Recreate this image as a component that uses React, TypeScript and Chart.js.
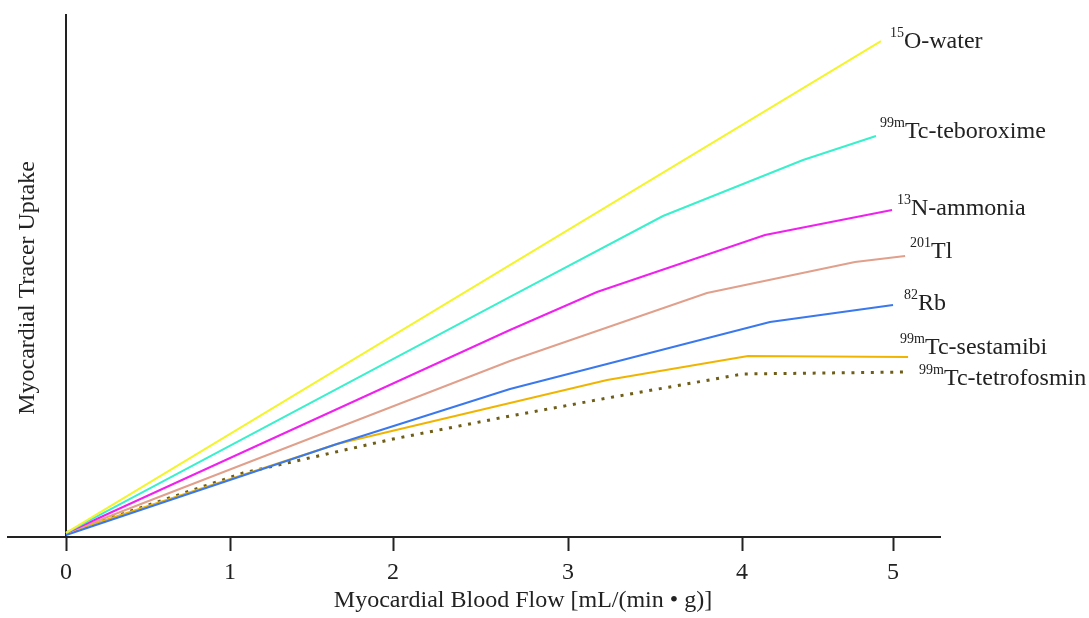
import React, { useEffect, useRef } from "react";
import { Chart, registerables } from "chart.js";

Chart.register(...registerables);

// x tick positions as they sit on the reference axis, and their labels
const xTickPositions = [0, 0.9915, 1.977, 3.035, 4.087, 5.0];
const xTickLabels = ["0", "1", "2", "3", "4", "5"];

// Series (x = myocardial blood flow, y = relative tracer uptake, 0-100)
const waterX = [0, 4.927];
const waterY = [0.77, 95.0];

const teboroximeX = [0, 2.684, 3.609, 4.456, 4.897];
const teboroximeY = [0.77, 45.98, 61.49, 72.22, 76.82];

const ammoniaX = [0, 2.684, 3.21, 4.226, 4.994];
const ammoniaY = [0.77, 39.66, 46.93, 57.85, 62.64];

const thalliumX = [0, 2.684, 3.875, 4.77, 5.073];
const thalliumY = [0.77, 33.72, 46.74, 52.68, 53.83];

const rubidiumX = [0, 1.638, 2.684, 4.256, 5.0];
const rubidiumY = [0.38, 17.82, 28.35, 41.19, 44.44];

const sestamibiX = [0, 1.638, 3.271, 4.123, 5.091];
const sestamibiY = [0.77, 17.82, 30.08, 34.67, 34.48];

const tetrofosminX = [0, 1.07, 1.977, 2.684, 3.307, 4.093, 5.091];
const tetrofosminY = [0.77, 12.26, 18.77, 23.18, 26.82, 31.23, 31.61];

const seriesSup = ["15", "99m", "13", "201", "82", "99m", "99m"];
const seriesMain = ["O-water", "Tc-teboroxime", "N-ammonia", "Tl", "Rb", "Tc-sestamibi", "Tc-tetrofosmin"];

const xTitle = "Myocardial Blood Flow [mL/(min \u2022 g)]";
const yTitle = "Myocardial Tracer Uptake";

// styling
const seriesColors = ["#f4f42a", "#38f0cc", "#f020ee", "#e0a08c", "#3a78ee", "#f0b400", "#6e5e18"];
const labelOffsets = [
  [9, 7],
  [4, 2],
  [5, 5],
  [5, 2],
  [11, 5],
  [-8, -3],
  [11, 13],
];

const FONT = '"Liberation Serif", "Times New Roman", serif';
const INK = "#222222";

function pts(xs: number[], ys: number[]) {
  return xs.map((x, i) => ({ x, y: ys[i] }));
}

const labelPlugin = {
  id: "tracerLabels",
  afterDraw(chart: any) {
    const ctx = chart.ctx as CanvasRenderingContext2D;
    const area = chart.chartArea;
    ctx.save();
    ctx.fillStyle = INK;
    // y axis title
    ctx.save();
    ctx.translate(area.left + 26, area.top + 273);
    ctx.rotate(-Math.PI / 2);
    ctx.font = `24px ${FONT}`;
    ctx.textAlign = "center";
    ctx.textBaseline = "alphabetic";
    ctx.fillText(yTitle, 0, 0);
    ctx.restore();

    // x axis title
    ctx.font = `24px ${FONT}`;
    ctx.textAlign = "center";
    ctx.textBaseline = "alphabetic";
    ctx.fillText(xTitle, area.left + 515, area.bottom + 70);

    ctx.textAlign = "left";
    chart.data.datasets.forEach((_ds: any, i: number) => {
      const meta = chart.getDatasetMeta(i);
      const last = meta.data[meta.data.length - 1];
      const x = last.x + labelOffsets[i][0];
      const base = last.y + labelOffsets[i][1];
      ctx.font = `14px ${FONT}`;
      ctx.fillText(seriesSup[i], x, base - 11);
      const w = ctx.measureText(seriesSup[i]).width;
      ctx.font = `24px ${FONT}`;
      ctx.fillText(seriesMain[i], x + w, base);
    });
    ctx.restore();
  },
};

export default function App() {
  const canvasRef = useRef<HTMLCanvasElement | null>(null);

  useEffect(() => {
    const canvas = canvasRef.current;
    if (!canvas) return;
    const xs = [waterX, teboroximeX, ammoniaX, thalliumX, rubidiumX, sestamibiX, tetrofosminX];
    const ys = [waterY, teboroximeY, ammoniaY, thalliumY, rubidiumY, sestamibiY, tetrofosminY];
    const datasets = xs.map((x, i) => ({
      label: seriesSup[i] + seriesMain[i],
      data: pts(x, ys[i]),
      borderColor: seriesColors[i],
      backgroundColor: seriesColors[i],
      borderWidth: i === 6 ? 3 : 2,
      borderDash: i === 6 ? [3, 6.7] : [],
      pointRadius: 0,
      tension: 0,
      fill: false,
    }));

    const chart = new Chart(canvas, {
      type: "line",
      data: { datasets },
      plugins: [labelPlugin],
      options: {
        responsive: false,
        animation: false,
        layout: { padding: { left: 8, right: 149, top: 15, bottom: 0 } },
        plugins: { legend: { display: false }, tooltip: { enabled: false } },
        scales: {
          x: {
            type: "linear",
            min: -0.351,
            max: 5.284,
            afterBuildTicks: (axis: any) => {
              axis.ticks = xTickPositions.map((v) => ({ value: v }));
            },
            afterFit: (axis: any) => {
              axis.height = 81;
            },
            ticks: {
              autoSkip: false,
              maxRotation: 0,
              padding: 7,
              color: INK,
              font: { family: FONT, size: 24 },
              callback: (_v: any, idx: number) => xTickLabels[idx],
            },
            grid: {
              drawOnChartArea: false,
              drawTicks: true,
              tickLength: 14,
              tickWidth: 2,
              tickColor: INK,
            },
            border: { display: true, color: INK, width: 2 },
            title: { display: false },
          },
          y: {
            type: "linear",
            min: 0,
            max: 100,
            position: { x: 0 } as any,
            ticks: { display: false },
            grid: { display: false, drawTicks: false },
            border: { display: true, color: INK, width: 2 },
          },
        },
      },
    });
    return () => chart.destroy();
  }, []);

  return (
    <div style={{ position: "absolute", left: 0, top: 0, width: 1089, height: 618, background: "#fff" }}>
      <canvas ref={canvasRef} width={1089} height={618} />
    </div>
  );
}
